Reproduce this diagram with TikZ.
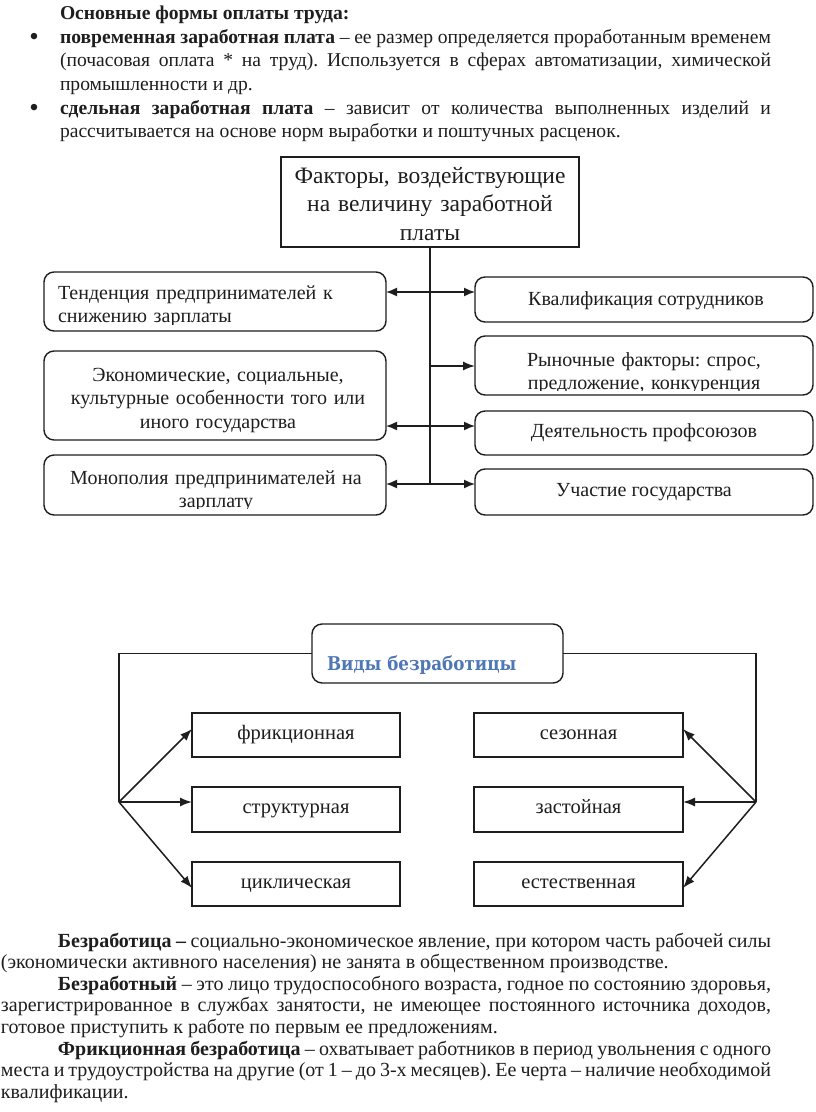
\documentclass[tikz,border=0pt]{standalone}
\usepackage{fontspec}
\setmainfont{Liberation Serif}
\newfontfamily\titlefont[FakeStretch=0.88]{DejaVu Serif}
\usetikzlibrary{arrows.meta}
\definecolor{titleblue}{HTML}{4F76B5}
\definecolor{ink}{HTML}{1E1E1E}
\hyphenpenalty=10000
\exhyphenpenalty=10000
\frenchspacing
\begin{document}
\begin{tikzpicture}[x=1pt,y=-1pt,
  every node/.style={inner sep=0pt, outer sep=0pt, text=ink},
  body/.style={font=\fontsize{19.6}{23.5}\selectfont},
  lowbody/.style={font=\fontsize{20}{21.6}\selectfont},
  boxtext/.style={font=\fontsize{20}{23.5}\selectfont},
  bul/.style={font=\fontsize{27}{27}\selectfont},
  rbox/.style={draw=ink, line width=1.4pt, rounded corners=10pt},
  sbox/.style={draw=ink, line width=1.4pt},
  conn/.style={draw=ink, line width=1.5pt},
  stip/.style={-{Latex[length=12pt,width=9pt]}},
  dtip/.style={{Latex[length=11pt,width=9pt]}-{Latex[length=11pt,width=9pt]}}]
\useasboundingbox[fill=white] (0,0) rectangle (816,1112);

% ---------- top text ----------
\node[font=\bfseries\fontsize{19.6}{23.5}\selectfont, anchor=base west] (head) at (60,19.5) {Основные формы оплаты труда:};
\node[bul, anchor=base] (bul1) at (34,45) {•};
\node[body, anchor=base west, text width=711pt, align=justify] (par1) at (60,43)
 {\textbf{повременная заработная плата} – ее размер определяется проработанным временем\linebreak
 (почасовая оплата * на труд). Используется в сферах автоматизации, химической\linebreak
 промышленности и др.};
\node[bul, anchor=base] (bul2) at (34,116) {•};
\node[body, anchor=base west, text width=711pt, align=justify] (par2) at (60,114)
 {\textbf{сдельная заработная плата} – зависит от количества выполненных изделий и\linebreak
 рассчитывается на основе норм выработки и поштучных расценок.};

% ---------- diagram 1 ----------
\node[sbox, minimum width=298pt, minimum height=90pt] (top) at (430,202) {};
\node[font=\fontsize{23.5}{28.5}\selectfont, anchor=base, text width=290pt, align=center] (toptext) at (430,183)
 {Факторы, воздействующие\\на величину заработной\\платы};

\node[rbox, minimum width=342pt, minimum height=59pt] (l1) at (215,301.5) {};
\node[rbox, minimum width=342pt, minimum height=89pt] (l2) at (215,395.5) {};
\node[rbox, minimum width=342pt, minimum height=60pt] (l3) at (215,485) {};
\node[rbox, minimum width=338pt, minimum height=45pt] (r1) at (644,299.5) {};
\node[rbox, minimum width=338pt, minimum height=59pt] (r2) at (644,365.5) {};
\node[rbox, minimum width=338pt, minimum height=44pt] (r3) at (644,433) {};
\node[rbox, minimum width=338pt, minimum height=46pt] (r4) at (644,492) {};

\begin{scope}
\clip (l1.north west) rectangle (l1.east |- 0,324);
\node[boxtext, anchor=base west, text width=320pt, align=left] (l1t) at (58,299)
 {Тенденция предпринимателей к\\снижению зарплаты};
\end{scope}
\node[boxtext, anchor=base, text width=330pt, align=center] (l2t) at (218,381)
 {Экономические, социальные,\\культурные особенности того или\\иного государства};
\begin{scope}
\clip (l3.north west) rectangle (l3.east |- 0,508);
\node[boxtext, anchor=base, text width=330pt, align=center] (l3t) at (216,484)
 {Монополия предпринимателей на\\зарплату};
\end{scope}
\node[boxtext, anchor=base] (r1t) at (646,305) {Квалификация сотрудников};
\begin{scope}
\clip (r2.north west) rectangle (r2.east |- 0,390);
\node[boxtext, anchor=base, text width=330pt, align=center] (r2t) at (644,366)
 {Рыночные факторы: спрос,\\предложение, конкуренция};
\end{scope}
\node[boxtext, anchor=base] (r3t) at (644,437) {Деятельность профсоюзов};
\node[boxtext, anchor=base] (r4t) at (644,496) {Участие государства};

\coordinate (t1) at (430,292);
\coordinate (t2) at (430,366);
\coordinate (t3) at (430,426);
\coordinate (t4) at (430,484);
\draw[conn] (top.south) -- (t4);
\draw[conn, dtip] (l1.east |- t1) -- (r1.west |- t1);
\draw[conn, stip] (t2) -- (r2.west |- t2);
\draw[conn, dtip] (l2.east |- t3) -- (r3.west |- t3);
\draw[conn, dtip] (l3.east |- t4) -- (r4.west |- t4);

% ---------- diagram 2 ----------
\node[rbox, minimum width=251pt, minimum height=59pt] (vt) at (437.5,653.5) {};
\node[anchor=base west, font=\titlefont\bfseries\fontsize{19}{23}\selectfont, text=titleblue] (vtt) at (327,670) {Виды безработицы};

\node[sbox, minimum width=208pt, minimum height=44pt] (f1) at (296,735) {};
\node[sbox, minimum width=208pt, minimum height=45pt] (f2) at (296,809.5) {};
\node[sbox, minimum width=208pt, minimum height=44pt] (f3) at (296,884) {};
\node[sbox, minimum width=209pt, minimum height=44pt] (s1) at (578.5,735) {};
\node[sbox, minimum width=209pt, minimum height=45pt] (s2) at (578.5,809.5) {};
\node[sbox, minimum width=209pt, minimum height=44pt] (s3) at (578.5,884) {};

\node[boxtext, font=\fontsize{20.5}{24}\selectfont, anchor=base] (f1t) at (296,739) {фрикционная};
\node[boxtext, font=\fontsize{20.5}{24}\selectfont, anchor=base] (f2t) at (296,813) {структурная};
\node[boxtext, font=\fontsize{20.5}{24}\selectfont, anchor=base] (f3t) at (296,888) {циклическая};
\node[boxtext, font=\fontsize{20.5}{24}\selectfont, anchor=base] (s1t) at (578.5,739) {сезонная};
\node[boxtext, font=\fontsize{20.5}{24}\selectfont, anchor=base] (s2t) at (578.5,813) {застойная};
\node[boxtext, font=\fontsize{20.5}{24}\selectfont, anchor=base] (s3t) at (578.5,888) {естественная};

\coordinate (lb) at (119,802);
\coordinate (rb) at (756,802);
\draw[conn] (vt.west) -- (vt.west -| lb) -- (lb);
\draw[conn] (vt.east) -- (vt.east -| rb) -- (rb);
\draw[conn, stip] (lb) -- ([yshift=6pt]f1.west);
\draw[conn, stip] (lb) -- (f2.west |- lb);
\draw[conn, stip] (lb) -- ([yshift=-4pt]f3.west);
\draw[conn, stip] (rb) -- ([yshift=6pt]s1.east);
\draw[conn, stip] (rb) -- (s2.east |- rb);
\draw[conn, stip] (rb) -- ([yshift=-4pt]s3.east);

% ---------- bottom text ----------
\node[lowbody, anchor=base west, text width=770pt, align=justify] (par3) at (1,947)
 {\hspace*{57pt}\textbf{Безработица –} социально-экономическое явление, при котором часть рабочей силы\linebreak
 (экономически активного населения) не занята в общественном производстве.\par
 \hspace*{57pt}\textbf{Безработный} – это лицо трудоспособного возраста, годное по состоянию здоровья,\linebreak
 зарегистрированное в службах занятости, не имеющее постоянного источника доходов,\linebreak
 готовое приступить к работе по первым ее предложениям.\par
 \hspace*{57pt}\textbf{Фрикционная безработица} – охватывает работников в период увольнения с одного\linebreak
 места и трудоустройства на другие (от 1 – до 3-х месяцев). Ее черта – наличие необходимой\linebreak
 квалификации.};
\end{tikzpicture}
\end{document}
